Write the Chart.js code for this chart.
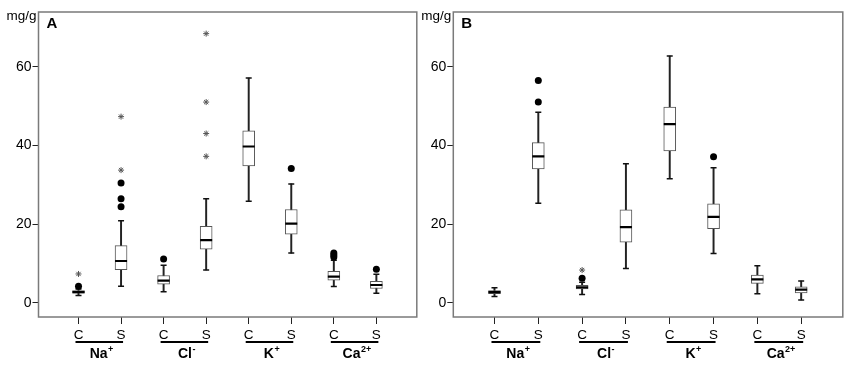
<!DOCTYPE html>
<html>
<head>
<meta charset="utf-8">
<script src="https://cdn.jsdelivr.net/npm/chart.js"></script>
<style>
  body { margin: 0; background: #fff; }
  canvas { position: absolute; top: 0; }
</style>
</head>
<body>
<canvas id="chartA" width="425" height="365" style="left:0px"></canvas>
<canvas id="chartB" width="438" height="365" style="left:413px"></canvas>
<script>
// categories: C = control, S = stressed, per ion
const groupLabels = ["C", "S", "C", "S", "C", "S", "C", "S"];
const ionNames = ["Na", "Cl", "K", "Ca"];
const ionCharges = ["+", "-", "+", "2+"];
const yTicks = [0, 20, 40, 60];

// panel A
const aMin = [1.8, 4.2, 2.8, 8.3, 25.8, 12.6, 4.1, 2.4];
const aQ1 = [2.4, 8.4, 4.7, 13.6, 34.8, 17.4, 5.7, 3.6];
const aMed = [2.7, 10.6, 5.6, 15.9, 39.7, 20.1, 6.6, 4.5];
const aQ3 = [3.1, 14.5, 6.9, 19.4, 43.7, 23.7, 8.0, 5.4];
const aMax = [3.5, 20.8, 9.5, 26.4, 57.1, 30.2, 10.8, 7.2];
const aCircleX = [0, 1, 1, 1, 2, 5, 6, 6, 6, 7];
const aCircleY = [4.2, 24.4, 26.4, 30.4, 11.1, 34.1, 11.6, 12.1, 12.6, 8.5];
const aStarX = [0, 1, 1, 3, 3, 3, 3];
const aStarY = [7.3, 33.7, 47.3, 37.2, 43.0, 51.0, 68.4];

// panel B
const bMin = [1.6, 25.3, 2.1, 8.7, 31.5, 12.5, 2.3, 0.7];
const bQ1 = [2.3, 34.0, 3.5, 15.4, 38.6, 18.8, 4.9, 2.5];
const bMed = [2.7, 37.2, 3.9, 19.2, 45.4, 21.8, 5.9, 3.3];
const bQ3 = [3.1, 40.7, 4.4, 23.6, 49.7, 25.1, 7.0, 4.0];
const bMax = [3.8, 48.4, 5.2, 35.3, 62.7, 34.3, 9.4, 5.5];
const bCircleX = [1, 1, 2, 5];
const bCircleY = [51.0, 56.5, 6.2, 37.1];
const bStarX = [2];
const bStarY = [8.3];

Chart.defaults.font.family = '"Liberation Sans", Arial, sans-serif';
Chart.defaults.color = "#000";

// frame, unit label, panel letter and ion group labels
const decor = {
  id: "decor",
  afterDraw(chart, args, opts) {
    const ctx = chart.ctx;
    const a = chart.chartArea;
    const x = chart.scales.x;
    ctx.save();
    ctx.strokeStyle = "#7a7a7a";
    ctx.lineWidth = 1.5;
    ctx.strokeRect(a.left, a.top, a.right - a.left, a.bottom - a.top);

    ctx.fillStyle = "#000";
    ctx.font = '13.5px "Liberation Sans", Arial';
    ctx.textAlign = "right";
    ctx.fillText("mg/g", a.left - 2, 20);

    ctx.font = 'bold 15px "Liberation Sans", Arial';
    ctx.textAlign = "left";
    ctx.fillText(opts.letter, a.left + 8, 28);

    ionNames.forEach((name, i) => {
      const x0 = x.getPixelForValue(2 * i) - 3;
      const x1 = x.getPixelForValue(2 * i + 1) + 2;
      ctx.fillRect(x0, a.bottom + 24, x1 - x0, 2);
      ctx.font = 'bold 14px "Liberation Sans", Arial';
      const w1 = ctx.measureText(name).width;
      ctx.font = 'bold 9px "Liberation Sans", Arial';
      const w2 = ctx.measureText(ionCharges[i]).width;
      const start = (x0 + x1) / 2 - (w1 + w2) / 2 + 2;
      ctx.font = 'bold 14px "Liberation Sans", Arial';
      ctx.fillText(name, start, a.bottom + 41);
      ctx.font = 'bold 9px "Liberation Sans", Arial';
      ctx.fillText(ionCharges[i], start + w1 + 0.5, a.bottom + 35);
    });
    ctx.restore();
  }
};

function pts(xs, ys) {
  return xs.map((v, i) => ({ x: v, y: ys[i] }));
}

function makePanel(id, letter, mins, q1s, meds, q3s, maxs, cx, cy, sx, sy, yWidth, padRight) {
  const idx = groupLabels.map((g, i) => i);
  new Chart(document.getElementById(id), {
    type: "bar",
    data: {
      datasets: [
        {
          type: "scatter",
          order: 0,
          data: pts(cx, cy),
          pointStyle: "circle",
          pointRadius: 3.5,
          backgroundColor: "#000",
          borderWidth: 0
        },
        {
          type: "scatter",
          order: 0,
          data: pts(sx, sy),
          pointStyle: "star",
          pointRadius: 3,
          borderColor: "#555",
          borderWidth: 1
        },
        {
          type: "scatter",
          order: 1,
          data: pts(idx, meds),
          pointStyle: "line",
          pointRadius: 6,
          borderColor: "#000",
          borderWidth: 2.2
        },
        {
          type: "scatter",
          order: 2,
          data: pts(idx, mins).concat(pts(idx, maxs)),
          pointStyle: "line",
          pointRadius: 3,
          borderColor: "#111",
          borderWidth: 1.5
        },
        {
          order: 3,
          data: idx.map(i => ({ x: i, y: [q1s[i], q3s[i]] })),
          grouped: false,
          barThickness: 12,
          backgroundColor: "#fff",
          borderColor: "#555",
          borderWidth: 1,
          borderSkipped: false
        },
        {
          order: 4,
          data: idx.map(i => ({ x: i, y: [mins[i], maxs[i]] })),
          grouped: false,
          barThickness: 1.3,
          backgroundColor: "#222",
          borderWidth: 0
        }
      ]
    },
    options: {
      responsive: false,
      animation: false,
      layout: { padding: { top: 12, right: padRight, left: 0, bottom: 0 } },
      plugins: { legend: { display: false }, tooltip: { enabled: false }, decor: { letter: letter } },
      scales: {
        x: {
          type: "linear",
          offset: false,
          min: -0.94,
          max: 7.95,
          afterBuildTicks: s => { s.ticks = idx.map(v => ({ value: v })); },
          afterFit: s => { s.height = 48; },
          grid: { drawOnChartArea: false, drawTicks: true, tickLength: 7, color: "#222", offset: false },
          border: { display: false },
          ticks: {
            autoSkip: false,
            maxRotation: 0,
            padding: 3,
            font: { size: 13.5 },
            callback: (v, i) => groupLabels[i]
          }
        },
        y: {
          min: -3.64,
          max: 73.9,
          afterBuildTicks: s => { s.ticks = yTicks.map(v => ({ value: v })); },
          afterFit: s => { s.width = yWidth; },
          grid: { drawOnChartArea: false, drawTicks: true, tickLength: 6, color: "#222" },
          border: { display: false },
          ticks: { padding: 1, font: { size: 14 } }
        }
      }
    },
    plugins: [decor]
  });
}

makePanel("chartA", "A", aMin, aQ1, aMed, aQ3, aMax, aCircleX, aCircleY, aStarX, aStarY, 38.5, 7);
makePanel("chartB", "B", bMin, bQ1, bMed, bQ3, bMax, bCircleX, bCircleY, bStarX, bStarY, 40.3, 5.3);
</script>
</body>
</html>
